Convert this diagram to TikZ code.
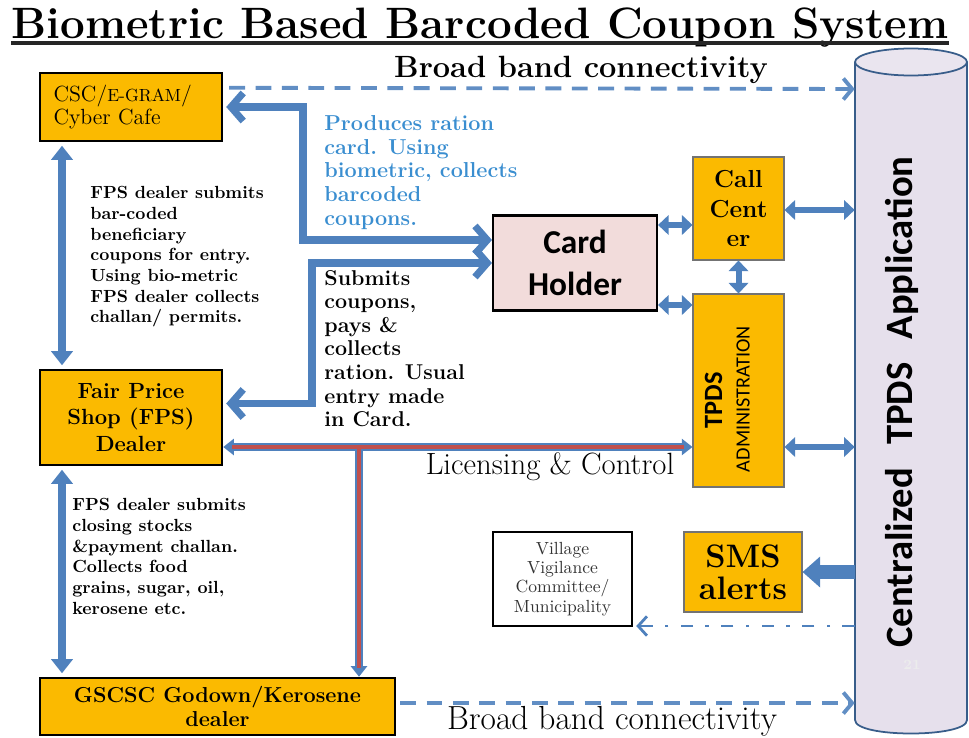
\documentclass[tikz,border=0pt]{standalone}
\usepackage{fontspec}
\newfontfamily\carlito{Carlito}
\usetikzlibrary{arrows.meta,calc}
\definecolor{orng}{HTML}{FBBA00}
\definecolor{arrblue}{HTML}{4F81BD}
\definecolor{txtblue}{HTML}{3A8ED0}
\definecolor{redl}{HTML}{C0504D}
\definecolor{pinkf}{HTML}{F2DCDB}
\definecolor{cylf}{HTML}{E6E0EC}
\definecolor{cyld}{HTML}{385D8A}
\newdimen\pxu \pxu=0.02cm
\begin{document}
\begin{tikzpicture}[x=0.02cm,y=-0.02cm,
  obox/.style={draw=black,line width=1.4pt,fill=orng,inner sep=0pt,align=center},
  tbox/.style={draw=black!55,line width=0.6pt,fill=orng,inner sep=0pt,align=center},
  note/.style={anchor=north west,inner sep=0pt,align=left},
  bpath/.style={arrblue,line width=4pt,{Straight Barb[length=7pt,width=16pt]}-{Straight Barb[length=7pt,width=16pt]}},
  dashb/.style={arrblue!90!white,line width=2.2pt,dash pattern=on 9pt off 6pt,-{Straight Barb[length=5pt,width=12pt]}},
  varr/.style={arrblue,line width=4.5pt,{Triangle[length=8pt,width=12pt]}-{Triangle[length=8pt,width=12pt]},shorten <=2pt,shorten >=2pt},
  sarr/.style={arrblue,line width=3.4pt,{Triangle[length=6pt,width=11pt]}-{Triangle[length=6pt,width=11pt]}},
  rbout/.style={arrblue,line width=4.8pt},
  rbin/.style={redl,line width=2.6pt}
]
\useasboundingbox (0,0) rectangle (969,737);

% title
\node[font=\bfseries\fontsize{25}{25}\selectfont,anchor=base,inner sep=0pt] (title) at (480,38) {Biometric Based Barcoded Coupon System};
\draw[line width=1.8pt,black!85] ($(title.base west)+(0,5)$) -- ($(title.base east)+(0,5)$);

% cylinder
\node[minimum width=112\pxu,minimum height=658\pxu,inner sep=0pt] (app) at (911,391) {};
\fill[cylf] (855,62) -- (855,720) .. controls (855,738) and (967,738) .. (967,720) -- (967,62) -- cycle;
\draw[cyld,line width=1pt] (855,62) -- (855,720) .. controls (855,738) and (967,738) .. (967,720) -- (967,62);
\draw[cyld,line width=1pt,fill=cylf!85!white] (911,62) ellipse [x radius=56, y radius=13.5];
\node[rotate=90,anchor=base,inner sep=0pt,font=\carlito\bfseries\fontsize{22}{22}\selectfont] (apptxt) at (912,402) {Centralized\hspace{0.6em}TPDS\hspace{0.6em}Application};
\node[text=white!85!gray,font=\bfseries\fontsize{8}{8}\selectfont] (pg) at (912,665) {21};

% boxes
\node[obox,minimum width=182\pxu,minimum height=68\pxu,text width=155\pxu,align=left,font=\fontsize{12.5}{13.5}\selectfont] (csc) at (131,107) {CSC/{\fontsize{10}{10}\selectfont E-GRAM}/\\Cyber Cafe};
\node[obox,minimum width=182\pxu,minimum height=95\pxu,font=\bfseries\fontsize{12.5}{15.3}\selectfont] (fps) at (131,417.5) {Fair Price\\Shop (FPS)\\Dealer};
\node[obox,minimum width=355\pxu,minimum height=57\pxu,font=\bfseries\fontsize{12.3}{14}\selectfont] (gscsc) at (217.5,706.5) {GSCSC Godown/Kerosene\\dealer};
\node[draw=black,line width=1.2pt,fill=pinkf,minimum width=164\pxu,minimum height=95\pxu,inner sep=0pt,align=center,font=\carlito\bfseries\fontsize{19}{24}\selectfont] (card) at (575,263) {Card\\Holder};
\node[tbox,minimum width=91\pxu,minimum height=103\pxu,font=\bfseries\fontsize{14}{17}\selectfont] (call) at (738.5,208.5) {Call\\Cent\\er};
\node[tbox,minimum width=91\pxu,minimum height=193\pxu] (tpds) at (738.5,390.5) {};
\node[rotate=90,inner sep=0pt,font=\carlito\bfseries\fontsize{15}{15}\selectfont] (tpdsa) at (713.5,400) {TPDS};
\node[rotate=90,inner sep=0pt,font=\carlito\fontsize{11.5}{11.5}\selectfont] (tpdsb) at (743,399) {ADMINISTRATION};
\node[tbox,minimum width=118\pxu,minimum height=80\pxu,font=\bfseries\fontsize{18.5}{18}\selectfont] (sms) at (743,572) {SMS\\alerts};
\node[draw=black,line width=1.4pt,fill=white,minimum width=139\pxu,minimum height=94\pxu,inner sep=0pt,align=center,text=black!80,font=\fontsize{10}{11}\selectfont] (vvc) at (562.5,579) {Village\\Vigilance\\Committee/\\Municipality};

% notes
\node[note,font=\bfseries\fontsize{10}{11.8}\selectfont] (t1) at (90,186) {FPS dealer submits\\bar-coded\\beneficiary\\coupons for entry.\\Using bio-metric\\FPS dealer collects\\challan/ permits.};
\node[note,font=\bfseries\fontsize{10}{11.8}\selectfont] (t2) at (72,498) {FPS dealer submits\\closing stocks\\\&payment challan.\\Collects food\\grains, sugar, oil,\\kerosene etc.};
\node[note,text=txtblue,font=\bfseries\fontsize{12.3}{13.5}\selectfont] (t3) at (324,115) {Produces ration\\card. Using\\biometric, collects\\barcoded\\coupons.};
\node[note,font=\bfseries\fontsize{12.2}{13.4}\selectfont] (t4) at (324,270) {Submits\\coupons,\\pays \&\\collects\\ration. Usual\\entry made\\in Card.};

% labels
\node[font=\bfseries\fontsize{17.5}{17.5}\selectfont] (bb1) at (581,70) {Broad band connectivity};
\node[font=\fontsize{19}{19}\selectfont] (bb2) at (612,721) {Broad band connectivity};
\node[font=\fontsize{17.5}{17.5}\selectfont] (lic) at (550,467) {Licensing \& Control};

% connectors
\draw[dashb] ($(csc.north east)+(6,16)$) -- (app.west |- 0,89);
\draw[dashb] ($(gscsc.east)+(4,-3.5)$) -- (app.west |- 0,703);
\draw[bpath] ($(csc.east)+(3,0)$) -| (303,240) -- (card.west |- 0,240);
\draw[bpath] ($(fps.east)+(3,-14)$) -| (312,263) -- (card.west);
\draw[varr] (csc.south -| 62,0) -- (fps.north -| 62,0);
\draw[varr] (fps.south -| 62,0) -- (gscsc.north -| 62,0);

\coordinate (j) at (359,447);
\draw[rbout,{Triangle[length=6pt,width=9pt]}-{Triangle[length=6pt,width=9pt]}] (fps.east |- j) -- (tpds.west |- j);
\draw[rbout,-{Triangle[length=6pt,width=9pt]}] (j) -- (j |- gscsc.north);
\draw[rbin,shorten <=5pt,shorten >=5pt] (fps.east |- j) -- (tpds.west |- j);
\draw[rbin,shorten >=5pt] (j) -- (j |- gscsc.north);

\draw[sarr] (card.east |- 0,225) -- (call.west |- 0,225);
\draw[sarr] (card.east |- 0,305) -- (tpds.west |- 0,305);
\draw[sarr] (call.south) -- (tpds.north);
\draw[sarr] (call.east |- 0,210) -- (app.west |- 0,210);
\draw[sarr] (tpds.east |- 0,447) -- (app.west |- 0,447);

\draw[arrblue,line width=7.5pt,-{Triangle[length=10pt,width=17pt]}] (app.west |- 0,572) -- (sms.east);
\draw[arrblue,line width=1.6pt,dash pattern=on 7pt off 7pt on 2pt off 7pt,-{Straight Barb[length=5pt,width=11pt]}] (app.west |- 0,626) -- ($(vvc.east |- 0,626)+(3,0)$);
\end{tikzpicture}
\end{document}
